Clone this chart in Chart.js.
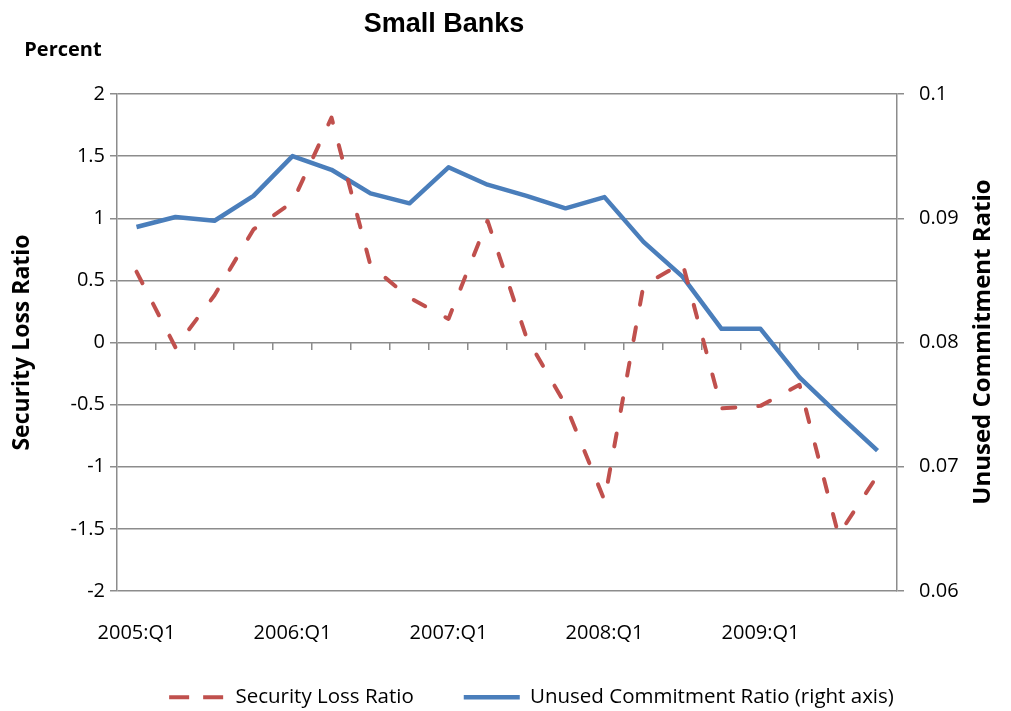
<!DOCTYPE html>
<html>
<head>
<meta charset="utf-8">
<script src="https://cdn.jsdelivr.net/npm/chart.js@4.4.1/dist/chart.umd.min.js"></script>
<style>
    html, body { margin: 0; padding: 0; background: #fff; }
    #wrap { width: 1011px; height: 711px; }
</style>
</head>
<body>
<div id="wrap"><canvas id="myChart"></canvas></div>
<script>
const quarters = [
    '2005:Q1', '2005:Q2', '2005:Q3', '2005:Q4',
    '2006:Q1', '2006:Q2', '2006:Q3', '2006:Q4',
    '2007:Q1', '2007:Q2', '2007:Q3', '2007:Q4',
    '2008:Q1', '2008:Q2', '2008:Q3', '2008:Q4',
    '2009:Q1', '2009:Q2', '2009:Q3', '2009:Q4'
];

// labels actually printed under the axis
const shownQuarters = ['2005:Q1', '2006:Q1', '2007:Q1', '2008:Q1', '2009:Q1'];

// left axis, percent
const securityLoss = [
    0.57, -0.04, 0.38, 0.91,
    1.13, 1.81, 0.62, 0.36,
    0.19, 0.98, 0.04, -0.50,
    -1.27, 0.46, 0.64, -0.53,
    -0.51, -0.34, -1.55, -1.07
];

// right axis, ratio
const unusedCommitment = [
    0.0893, 0.0901, 0.0898, 0.0918,
    0.0950, 0.0939, 0.0920, 0.0912,
    0.0941, 0.0927, 0.0918, 0.0908,
    0.0917, 0.0881, 0.0853, 0.0811,
    0.0811, 0.0772, 0.0742, 0.0713
];

const gridColor = '#8c8c8c';
const red = '#C0504D';
const blue = '#4A7EBB';
const tickFont = { family: '"Open Sans", sans-serif', size: 20 };
const legendFont = { family: '"Open Sans", sans-serif', size: 20.5 };

// texts Chart.js has no slot for
const extraText = {
    id: 'extraText',
    afterDraw(chart) {
        const ctx = chart.ctx;
        ctx.save();
        ctx.fillStyle = '#000';
        ctx.textAlign = 'center';
        ctx.textBaseline = 'middle';
        ctx.font = 'bold 27px "Liberation Sans", Arial, sans-serif';
        ctx.fillText('Small Banks', 444, 25);
        ctx.font = 'bold 20px "Open Sans", sans-serif';
        ctx.fillText('Percent', 63, 50);
        ctx.translate(983, 342);
        ctx.rotate(-Math.PI / 2);
        ctx.font = 'bold 24px "Open Sans", sans-serif';
        ctx.fillText('Unused Commitment Ratio', 0, 0);
        ctx.restore();
    }
};

// legend sits a bit right of centre and lower than its box, like the original
const legendShift = {
    id: 'legendShift',
    afterLayout(chart) {
        chart.legend.left += 26;
        chart.legend.right += 26;
        chart.legend.top -= 34;
    }
};

const myChart = document.getElementById('myChart').getContext('2d');

const graph = new Chart(myChart, {
    type: 'line',
    data: {
        labels: quarters,
        datasets: [{
            label: 'Security Loss Ratio',
            data: securityLoss,
            yAxisID: 'y',
            borderColor: red,
            backgroundColor: red,
            borderWidth: 4,
            borderDash: [13, 23],
            borderCapStyle: 'round',
            borderJoinStyle: 'round',
            pointRadius: 0,
            tension: 0
        }, {
            label: 'Unused Commitment Ratio (right axis)',
            data: unusedCommitment,
            yAxisID: 'y1',
            borderColor: blue,
            backgroundColor: blue,
            borderWidth: 4.5,
            borderJoinStyle: 'round',
            pointRadius: 0,
            tension: 0
        }]
    },
    options: {
        responsive: true,
        maintainAspectRatio: false,
        animation: false,
        layout: { padding: { top: 94, left: 0, right: 0, bottom: 0 } },
        plugins: {
            title: { display: false },
            tooltip: { enabled: false },
            legend: {
                position: 'bottom',
                maxHeight: 40,
                labels: {
                    color: '#000',
                    font: legendFont,
                    usePointStyle: true,
                    pointStyleWidth: 56,
                    padding: 50,
                    generateLabels: (chart) => chart.data.datasets.map((ds, i) => ({
                        text: ds.label,
                        fillStyle: ds.borderColor,
                        strokeStyle: ds.borderColor,
                        lineWidth: ds.borderWidth,
                        lineDash: i === 0 ? [20, 14] : [],
                        lineCap: 'butt',
                        pointStyle: 'line',
                        hidden: false,
                        datasetIndex: i
                    }))
                }
            }
        },
        scales: {
            x: {
                type: 'category',
                position: 'bottom',
                offset: true,
                grid: { display: false },
                border: { display: false },
                ticks: {
                    color: '#000',
                    font: tickFont,
                    autoSkip: false,
                    maxRotation: 0,
                    padding: 22,
                    callback: function (value) {
                        const lab = this.getLabelForValue(value);
                        return shownQuarters.includes(lab) ? lab : '';
                    }
                },
                afterFit: (scale) => {
                    const lg = scale.chart.legend;
                    scale.height = 120 - (lg ? lg.height : 40);
                }
            },
            x2: {
                type: 'category',
                labels: quarters,
                position: { y: 0 },
                offset: true,
                grid: {
                    offset: true,
                    drawOnChartArea: false,
                    drawTicks: true,
                    tickLength: 7,
                    color: gridColor,
                    lineWidth: 1.5
                },
                border: { display: false },
                ticks: { display: false }
            },
            y: {
                position: 'left',
                min: -2,
                max: 2,
                ticks: {
                    stepSize: 0.5,
                    color: '#000',
                    font: tickFont,
                    padding: 5,
                    callback: (v) => String(v)
                },
                grid: { color: gridColor, lineWidth: 1.5, tickLength: 7 },
                border: { display: true, color: gridColor, width: 1.5 },
                title: {
                    display: true,
                    text: 'Security Loss Ratio',
                    color: '#000',
                    font: { family: '"Open Sans", sans-serif', size: 23, weight: 'bold' },
                    padding: { top: 9, bottom: 0 }
                },
                afterFit: (scale) => { scale.width = 117; }
            },
            y1: {
                position: 'right',
                min: 0.06,
                max: 0.1,
                ticks: {
                    stepSize: 0.01,
                    color: '#000',
                    font: tickFont,
                    padding: 15,
                    callback: (v) => String(Number(v.toFixed(2)))
                },
                grid: { drawOnChartArea: false, color: gridColor, lineWidth: 1.5, tickLength: 7 },
                border: { display: true, color: gridColor, width: 1.5 },
                afterFit: (scale) => { scale.width = 114; }
            }
        }
    },
    plugins: [extraText, legendShift]
});
</script>
</body>
</html>
